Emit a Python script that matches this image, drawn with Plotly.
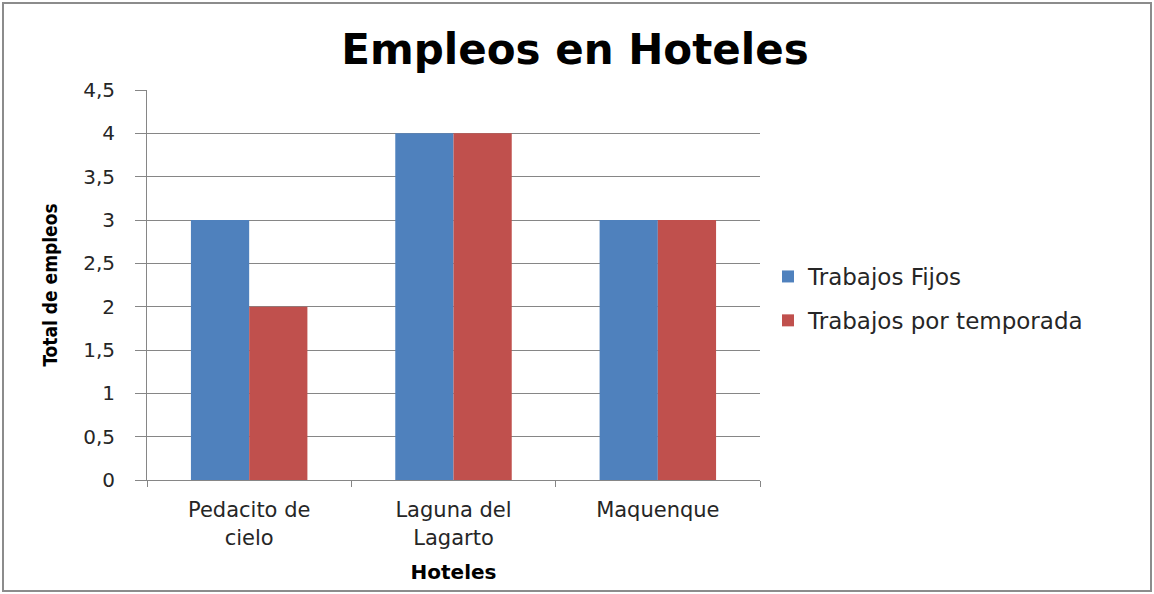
import plotly.graph_objects as go

# Datos del gráfico
hoteles = ["Pedacito de<br>cielo", "Laguna del<br>Lagarto", "Maquenque"]
trabajos_fijos = [3, 4, 3]
trabajos_temporada = [2, 4, 3]
y_ticks = [0, 0.5, 1, 1.5, 2, 2.5, 3, 3.5, 4, 4.5]
y_tick_labels = ["0", "0,5", "1", "1,5", "2", "2,5", "3", "3,5", "4", "4,5"]

W, H = 1154, 594
L, R, T, B = 147, 394, 90, 114
pw, ph = W - L - R, H - T - B

fuente = "DejaVu Sans, Verdana, sans-serif"
gris = "#868686"
texto = "#262626"

fig = go.Figure()

fig.add_trace(go.Bar(
    x=hoteles, y=trabajos_fijos, name="Trabajos Fijos", legendgroup="fijos",
    marker=dict(color="#4F81BD", line=dict(width=0)),
))
fig.add_trace(go.Bar(
    x=hoteles, y=trabajos_temporada, name="Trabajos por temporada", legendgroup="temporada",
    marker=dict(color="#C0504D", line=dict(width=0)),
))

fig.update_layout(
    width=W, height=H,
    margin=dict(l=L, r=R, t=T, b=B, autoexpand=False),
    paper_bgcolor="white", plot_bgcolor="white",
    font=dict(family=fuente, size=21, color=texto),
    barmode="group", bargap=0.43, bargroupgap=0,
    title=dict(
        text="<b>Empleos en Hoteles</b>",
        x=575 / W, xref="container", xanchor="center",
        y=1 - 49 / H, yref="container", yanchor="middle",
        font=dict(family=fuente, size=42, color="#000000"),
    ),
    xaxis=dict(
        showline=True, linecolor=gris, linewidth=1,
        ticks="outside", tickson="boundaries", ticklen=6, tickcolor=gris,
        ticklabelstandoff=11,
        showgrid=False, tickfont=dict(size=21, color=texto),
        title=dict(text="<b>Hoteles</b>", font=dict(size=20, color="#000000"), standoff=16),
    ),
    yaxis=dict(
        range=[0, 4.5], tickvals=y_ticks, ticktext=y_tick_labels,
        showline=True, linecolor=gris, linewidth=1,
        ticks="outside", ticklen=11, tickcolor=gris, ticklabelstandoff=16,
        showgrid=True, gridcolor=gris, gridwidth=1, zeroline=False,
        tickfont=dict(size=20, color=texto),
        title=dict(
            text="<b>Total de empleos</b>",
            font=dict(family="Liberation Sans Narrow, DejaVu Sans Condensed, sans-serif",
                      size=19, color="#000000"),
            standoff=20,
        ),
    ),
    legend=dict(
        x=(768 - L) / pw, xanchor="left",
        y=(H - B - 255) / ph, yanchor="top",
        font=dict(size=23, color=texto),
        traceorder="grouped", tracegroupgap=11, itemwidth=30,
    ),
    shapes=[dict(
        type="rect", xref="paper", yref="paper",
        x0=(3 - L) / pw, x1=(1151 - L) / pw,
        y0=(H - B - 591) / ph, y1=(H - B - 3) / ph,
        line=dict(color="#8c8c8c", width=2), fillcolor="rgba(0,0,0,0)", layer="below",
    )],
)

# quitar el margen por defecto del body para que la figura empiece en (0, 0)
fig.write_html(
    "out.html",
    config={"displayModeBar": False},
    post_script="document.body.style.margin = '0';",
)
